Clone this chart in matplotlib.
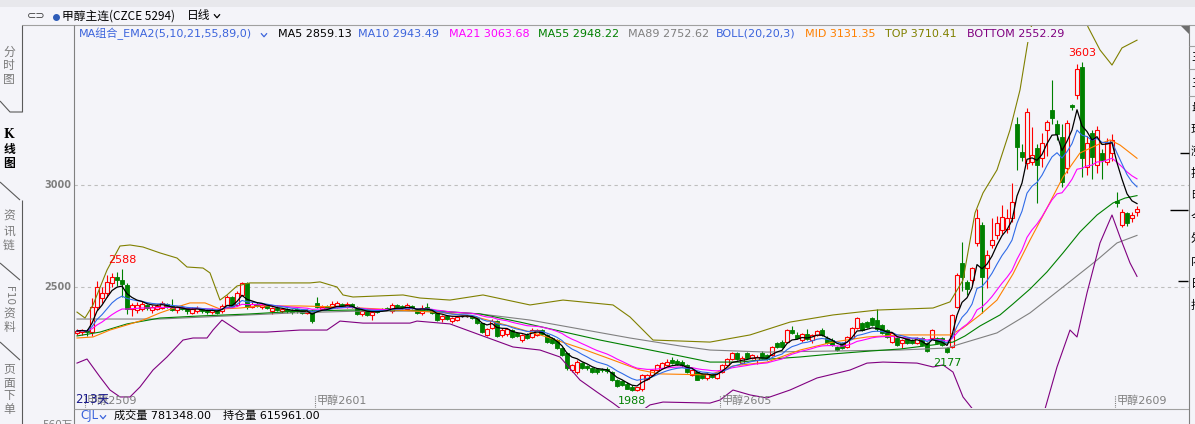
import numpy as np
import pandas as pd
import matplotlib
matplotlib.use("Agg")
import matplotlib.pyplot as plt
from matplotlib.patches import Rectangle, Polygon
from matplotlib.lines import Line2D

plt.rcParams['font.family'] = ['DejaVu Sans', 'Noto Sans CJK SC']

# ---------------- data ----------------
open_ = [2275, 2280, 2290, 2280, 2400, 2445, 2470, 2520, 2548, 2535,
         2512, 2392, 2385, 2392, 2410, 2386, 2390, 2395, 2416, 2405,
         2385, 2400, 2395, 2375, 2380, 2390, 2385, 2378, 2385, 2380,
         2400, 2450, 2410, 2460, 2520, 2400, 2416, 2400, 2410, 2380,
         2395, 2380, 2390, 2386, 2390, 2385, 2375, 2380, 2420, 2390,
         2405, 2400, 2400, 2415, 2400, 2415, 2400, 2368, 2385, 2365,
         2385, 2390, 2395, 2380, 2410, 2405, 2390, 2405, 2390, 2375,
         2400, 2385, 2375, 2345, 2360, 2335, 2340, 2360, 2360, 2358,
         2350, 2322, 2265, 2300, 2335, 2265, 2270, 2290, 2275, 2240,
         2265, 2255, 2265, 2290, 2265, 2250, 2240, 2200, 2175, 2094,
         2084, 2128, 2115, 2103, 2100, 2100, 2100, 2085, 2045, 2040,
         2025, 2012, 1996, 1998, 2048, 2070, 2094, 2103, 2118, 2142,
         2135, 2130, 2118, 2070, 2084, 2072, 2056, 2072, 2056, 2084,
         2118, 2147, 2176, 2128, 2176, 2152, 2142, 2176, 2166, 2168,
         2226, 2231, 2231, 2290, 2265, 2240, 2270, 2240, 2265, 2290,
         2250, 2240, 2206, 2225, 2206, 2250, 2300, 2324, 2329, 2348,
         2338, 2314, 2290, 2230, 2250, 2226, 2250, 2240, 2226, 2250,
         2226, 2250, 2250, 2250, 2201, 2206, 2402, 2618, 2525, 2535,
         2716, 2805, 2593, 2706, 2755, 2780, 2785, 2838, 3299, 3162,
         3108, 3113, 3181, 3132, 3270, 3368, 3300, 3235, 3083, 3390,
         3441, 3578, 3088, 3255, 3098, 3157, 3113, 3157, 2922, 2804,
         2863, 2838, 2868]
high = [2295, 2295, 2295, 2445, 2530, 2500, 2560, 2570, 2575, 2588,
        2518, 2420, 2425, 2430, 2415, 2410, 2415, 2430, 2420, 2440,
        2405, 2410, 2400, 2400, 2405, 2395, 2390, 2395, 2390, 2415,
        2460, 2455, 2480, 2525, 2525, 2430, 2425, 2420, 2415, 2400,
        2410, 2395, 2395, 2390, 2395, 2390, 2390, 2385, 2450, 2410,
        2410, 2430, 2430, 2420, 2425, 2420, 2405, 2385, 2390, 2380,
        2390, 2395, 2400, 2420, 2415, 2410, 2420, 2410, 2395, 2410,
        2420, 2390, 2380, 2365, 2365, 2355, 2360, 2365, 2362, 2362,
        2355, 2325, 2300, 2345, 2340, 2300, 2300, 2295, 2280, 2270,
        2275, 2300, 2295, 2295, 2270, 2255, 2245, 2205, 2180, 2125,
        2140, 2132, 2120, 2108, 2105, 2105, 2110, 2090, 2050, 2045,
        2035, 2020, 2012, 2072, 2072, 2098, 2122, 2132, 2145, 2158,
        2145, 2140, 2122, 2098, 2090, 2078, 2076, 2076, 2080, 2122,
        2152, 2182, 2180, 2160, 2182, 2170, 2168, 2185, 2172, 2212,
        2232, 2240, 2295, 2310, 2280, 2275, 2295, 2270, 2290, 2300,
        2258, 2250, 2212, 2232, 2260, 2305, 2355, 2330, 2335, 2355,
        2390, 2320, 2295, 2280, 2256, 2245, 2256, 2245, 2256, 2256,
        2232, 2295, 2256, 2256, 2206, 2368, 2570, 2720, 2535, 2600,
        2880, 2820, 2680, 2840, 2850, 2900, 2880, 3010, 3333, 3200,
        3377, 3284, 3200, 3255, 3320, 3515, 3320, 3300, 3320, 3395,
        3595, 3603, 3240, 3270, 3290, 3175, 3230, 3250, 2966, 2880,
        2870, 2870, 2897]
low = [2265, 2265, 2260, 2262, 2385, 2420, 2450, 2500, 2505, 2450,
       2370, 2360, 2375, 2380, 2385, 2375, 2385, 2390, 2395, 2380,
       2375, 2385, 2370, 2370, 2375, 2375, 2370, 2370, 2370, 2375,
       2395, 2400, 2405, 2455, 2390, 2395, 2400, 2390, 2390, 2370,
       2380, 2375, 2375, 2370, 2375, 2370, 2370, 2325, 2395, 2385,
       2390, 2395, 2395, 2400, 2395, 2395, 2365, 2360, 2360, 2340,
       2375, 2380, 2385, 2375, 2398, 2390, 2385, 2390, 2370, 2365,
       2385, 2370, 2335, 2330, 2340, 2325, 2335, 2355, 2355, 2345,
       2320, 2275, 2260, 2295, 2255, 2255, 2260, 2250, 2255, 2230,
       2245, 2250, 2260, 2265, 2225, 2220, 2195, 2160, 2095, 2085,
       2075, 2100, 2095, 2078, 2075, 2085, 2080, 2040, 2010, 2015,
       1998, 1988, 1992, 1992, 2042, 2065, 2090, 2098, 2112, 2125,
       2120, 2110, 2080, 2066, 2042, 2050, 2042, 2052, 2050, 2080,
       2112, 2142, 2140, 2122, 2148, 2146, 2125, 2146, 2140, 2160,
       2200, 2200, 2225, 2270, 2245, 2230, 2240, 2225, 2260, 2260,
       2220, 2210, 2185, 2195, 2200, 2245, 2295, 2285, 2300, 2308,
       2285, 2270, 2250, 2225, 2210, 2200, 2220, 2220, 2220, 2210,
       2180, 2245, 2220, 2210, 2177, 2200, 2395, 2480, 2460, 2510,
       2700, 2375, 2495, 2690, 2735, 2760, 2765, 2820, 3074, 3120,
       3080, 3100, 2912, 3090, 3140, 3300, 3220, 2990, 3060, 3370,
       3420, 3039, 3050, 3030, 3059, 3030, 3100, 3120, 2892, 2794,
       2800, 2820, 2848]
close = [2285, 2290, 2278, 2400, 2500, 2470, 2525, 2550, 2532, 2515,
         2392, 2412, 2410, 2416, 2396, 2401, 2406, 2420, 2401, 2386,
         2400, 2390, 2380, 2390, 2395, 2381, 2378, 2386, 2375, 2405,
         2450, 2406, 2470, 2520, 2400, 2415, 2408, 2411, 2395, 2395,
         2385, 2390, 2380, 2378, 2381, 2375, 2385, 2335, 2402, 2400,
         2396, 2415, 2420, 2405, 2415, 2401, 2370, 2380, 2365, 2375,
         2378, 2385, 2390, 2410, 2402, 2395, 2410, 2395, 2375, 2395,
         2390, 2375, 2340, 2360, 2345, 2350, 2355, 2360, 2360, 2350,
         2325, 2280, 2295, 2335, 2262, 2290, 2295, 2256, 2262, 2265,
         2252, 2290, 2290, 2272, 2232, 2226, 2202, 2167, 2103, 2118,
         2133, 2105, 2102, 2082, 2082, 2092, 2086, 2045, 2016, 2022,
         2002, 1994, 2008, 2068, 2068, 2094, 2118, 2128, 2130, 2128,
         2124, 2116, 2084, 2094, 2046, 2055, 2072, 2058, 2076, 2118,
         2147, 2177, 2145, 2152, 2152, 2165, 2156, 2152, 2147, 2206,
         2206, 2206, 2290, 2275, 2250, 2270, 2245, 2265, 2282, 2265,
         2226, 2216, 2192, 2200, 2255, 2300, 2348, 2290, 2305, 2314,
         2292, 2276, 2256, 2275, 2216, 2240, 2226, 2226, 2250, 2216,
         2184, 2290, 2226, 2216, 2182, 2363, 2559, 2550, 2492, 2593,
         2838, 2549, 2657, 2731, 2814, 2843, 2840, 2917, 3186, 3137,
         3358, 3147, 3098, 3206, 3309, 3328, 3250, 3015, 3304, 3380,
         3568, 3132, 3206, 3137, 3270, 3122, 3206, 3220, 2912, 2868,
         2814, 2853, 2882]

# slow indicator lines at sample bars
ma55_idx = [0, 4.6, 10, 16.6, 24.6, 34.6, 44.6, 54.6, 64.6, 72.6, 80.6, 88.6, 96.6, 104.6,
            112.6, 120.6, 126.6, 132.6, 138.6, 144.6, 151.2, 158.6, 164.6, 171.2, 175.2,
            177.6, 180.6, 184.6, 187.2, 190.6, 194, 197.2, 200.6, 204, 207.2, 209.6, 212]
ma55_val = [2260, 2279, 2319, 2348, 2358, 2368, 2382, 2387, 2387, 2382, 2368, 2328, 2284, 2240,
            2201, 2162, 2132, 2132, 2147, 2157, 2172, 2186, 2196, 2216, 2230,
            2260, 2309, 2363, 2417, 2490, 2574, 2667, 2770, 2853, 2912, 2936, 2948]
ma89_idx = [0, 16.6, 30, 43.2, 56.6, 68.6, 80.6, 90.6, 100.6, 110.6, 120.6, 126.6, 138,
            150.6, 164.6, 174, 177.2, 184, 190.6, 197.2, 204, 208, 212]
ma89_val = [2343, 2343, 2358, 2373, 2382, 2382, 2368, 2338, 2294, 2250, 2211, 2191, 2181,
            2186, 2191, 2201, 2225, 2275, 2373, 2500, 2632, 2716, 2753]
mid_idx = [0, 3.2, 6.6, 10, 13.2, 16.6, 20, 22.6, 25.6, 28.6, 32.6, 36.6, 44.6, 52.6, 60.6,
           74, 80.6, 87.2, 94, 100.6, 107.2, 112.6, 116.6, 126.6, 131.2, 138, 144.6, 151.2,
           158, 164.6, 174.6, 177.2, 180.6, 184, 187.2, 190.6, 194, 197.2, 200.6, 204, 206.6,
           208.6, 212]
mid_val = [2250, 2255, 2289, 2314, 2338, 2373, 2402, 2422, 2422, 2392, 2397, 2407, 2407, 2402,
           2392, 2373, 2348, 2304, 2255, 2201, 2142, 2093, 2074, 2069, 2113, 2132, 2191, 2230,
           2255, 2265, 2265, 2299, 2363, 2436, 2564, 2730, 2887, 3039, 3157, 3196, 3221,
           3196, 3131]
top_idx = [0, 1.6, 3.2, 6, 8.6, 10.6, 13.2, 16.6, 20, 22, 25.2, 26.6, 28.6, 30, 32, 34.6,
           46.6, 48.6, 52, 53.2, 55.2, 65.2, 68.6, 74.6, 81.2, 90.6, 97.2, 107.2, 110.6, 115.2,
           126.6, 134.6, 142.6, 151.2, 160, 171.2, 174.6, 177.2, 179.6, 181.2, 184, 186.6,
           188.6, 190, 190.6, 193.6, 196.6, 199.6, 202.2, 204.6, 207, 209, 212]
top_val = [2377, 2348, 2412, 2583, 2701, 2706, 2696, 2667, 2642, 2598, 2593, 2569, 2436,
           2461, 2505, 2520, 2520, 2525, 2500, 2461, 2451, 2461, 2446, 2436, 2461, 2412,
           2436, 2412, 2353, 2240, 2230, 2265, 2328, 2363, 2387, 2397, 2427, 2534, 2863,
           2961, 3074, 3270, 3466, 3676, 3760, 3950, 4050, 3950, 3775, 3662, 3588, 3672, 3710]
bot_idx = [0, 2, 4.6, 6.6, 8.6, 10.6, 12.6, 15.2, 18, 21.2, 23.2, 26, 27.2, 29, 32.6, 38,
           44.6, 50, 52.6, 57.2, 66.6, 68, 74.6, 80.6, 87.2, 92.6, 96.6, 100.6, 104, 107.2,
           109.6, 112.6, 114.6, 117.2, 126.6, 128.6, 131.2, 134.6, 138, 142.6, 148, 154.6,
           158, 161.2, 168, 171.2, 173.2, 175.2, 177.2, 179.6, 183, 187, 191, 193.6, 196,
           198.6, 200, 202, 204.6, 207, 208.6, 210.6, 212]
bot_val = [2127, 2147, 2059, 1995, 1961, 1961, 2010, 2093, 2157, 2240, 2250, 2250, 2289,
           2338, 2279, 2279, 2289, 2289, 2333, 2323, 2323, 2333, 2319, 2265, 2206, 2191,
           2157, 2044, 1985, 1931, 1887, 1887, 1922, 1936, 1931, 1946, 1995, 1971, 1956,
           1995, 2054, 2093, 2127, 2132, 2127, 2108, 2118, 2083, 1961, 1887, 1780, 1700,
           1780, 1902, 2108, 2289, 2255, 2471, 2716, 2853, 2745, 2618, 2552]

extreme_idx = [9, 201, 111, 174]
extreme_val = [2588, 3603, 1988, 2177]
extreme_kind = ['high', 'high', 'low', 'low']

contract_names = ['甲醇2509', '甲醇2601', '甲醇2605', '甲醇2609']
contract_start = [2, 48, 129, 208]

legend_names = ['MA5', 'MA10', 'MA21', 'MA55', 'MA89', 'MID', 'TOP', 'BOTTOM']
legend_values = ['2859.13', '2943.49', '3063.68', '2948.22', '2752.62', '3131.35', '3710.41', '2552.29']

# ---------------- styling ----------------
BG = '#F4F4F9'
RED = '#FF0000'
GREEN = '#008000'
BLUE = '#3C64DC'
MAG = '#FF00FF'
GRAY = '#808080'
ORANGE = '#FF8000'
OLIVE = '#808000'
PURPLE = '#800080'
LINE = '#A0A0A0'

W, H, DPI = 1195, 424, 100
fig = plt.figure(figsize=(W / DPI, H / DPI), dpi=DPI, facecolor=BG)


def fx(x):
    return x / W


def fy(y):
    return 1 - y / H


def fline(xs, ys, color=LINE, lw=0.8, ls='-', z=2):
    fig.add_artist(Line2D([fx(v) for v in xs], [fy(v) for v in ys], transform=fig.transFigure,
                          color=color, lw=lw, ls=ls, zorder=z, solid_capstyle='butt'))


def ftext(x, y, s, color='black', size=8, ha='left', va='center', **kw):
    fig.text(fx(x), fy(y), s, color=color, fontsize=size, ha=ha, va=va, **kw)


def chevron(xc, yc, color, w=6.0, h=3.5):
    fline([xc - w / 2, xc, xc + w / 2], [yc - h / 2, yc + h / 2, yc - h / 2], color=color, lw=0.9, z=5)


# main price axes
X0, X1, Y0, Y1 = 74, 1189, 25, 408
ax = fig.add_axes([fx(X0), fy(Y1), (X1 - X0) / W, (Y1 - Y0) / H])
ax.set_facecolor(BG)
ppx = 500 / 102.0
ax.set_xlim((X0 - 77) / 5.0, (X1 - 77) / 5.0)
ax.set_ylim(3000 - (Y1 - 185) * ppx, 3000 + (185 - Y0) * ppx)
ax.axis('off')

for lvl in (3000, 2500):
    ax.axhline(lvl, color='#BEBEBE', lw=0.8, ls=(0, (3, 3)), zorder=1)

# candles
n = len(close)
bw = 0.7
for i in range(n):
    o, h, l, c = open_[i], high[i], low[i], close[i]
    h = max(h, o, c)
    l = min(l, o, c)
    if c > o:
        ax.vlines(i, c, h, color=RED, lw=0.8, zorder=2)
        ax.vlines(i, l, o, color=RED, lw=0.8, zorder=2)
        ax.add_patch(Rectangle((i - bw / 2, o), bw, c - o, facecolor=BG, edgecolor=RED, lw=0.8, zorder=2))
    elif c < o:
        ax.vlines(i, l, h, color=GREEN, lw=0.8, zorder=2)
        ax.add_patch(Rectangle((i - bw / 2, c), bw, o - c, facecolor=GREEN, edgecolor=GREEN, lw=0.6, zorder=2))
    else:
        ax.vlines(i, l, h, color='black', lw=0.8, zorder=2)
        ax.hlines(c, i - bw / 2, i + bw / 2, color='black', lw=1.0, zorder=2)

# moving averages (EMA of the closes) and the read-off indicator lines
cs = pd.Series(close, dtype=float)
idx = np.arange(n)
ax.plot(ma89_idx, ma89_val, color=GRAY, lw=0.8, zorder=3)
ax.plot(ma55_idx, ma55_val, color=GREEN, lw=0.8, zorder=3)
ax.plot(mid_idx, mid_val, color=ORANGE, lw=0.8, zorder=3)
ax.plot(top_idx, top_val, color=OLIVE, lw=0.8, zorder=3)
ax.plot(bot_idx, bot_val, color=PURPLE, lw=0.8, zorder=3)
ax.plot(idx, cs.ewm(span=21, adjust=False).mean(), color=MAG, lw=0.8, zorder=3)
ax.plot(idx, cs.ewm(span=10, adjust=False).mean(), color='#2F6BE8', lw=0.8, zorder=3)
ax.plot(idx, cs.ewm(span=5, adjust=False).mean(), color='black', lw=0.9, zorder=3)

# extreme labels
for i, v, k in zip(extreme_idx, extreme_val, extreme_kind):
    if k == 'high':
        ax.annotate(str(v), xy=(i, v), xytext=(0, 4), textcoords='offset pixels',
                    ha='center', va='bottom', color=RED, fontsize=8, zorder=6)
    else:
        ax.annotate(str(v), xy=(i, v), xytext=(0, -5), textcoords='offset pixels',
                    ha='center', va='top', color=GREEN, fontsize=8, zorder=6)

# contract roll markers
for name, s in zip(contract_names, contract_start):
    ax.vlines(s - 0.5, 3000 - (408 - 185) * ppx, 3000 - (395 - 185) * ppx, color=GRAY,
              lw=0.8, ls=(0, (1, 1)), zorder=4)
    ax.annotate(name, xy=(s - 0.5, 3000 - (401 - 185) * ppx), xytext=(2, 0), textcoords='offset pixels',
                ha='left', va='center', color=GRAY, fontsize=8,
                family=['DejaVu Sans', 'Noto Sans CJK SC'], zorder=5)
ftext(75, 399, '213天', color='#1C1C8C', size=8.5, family=['DejaVu Sans', 'Noto Sans CJK SC'], zorder=6)

# ---------------- frame and chrome ----------------
fig.add_artist(Rectangle((0, fy(7)), 1, 7 / H, transform=fig.transFigure, facecolor='#E8E8EC',
                         edgecolor='none', zorder=1))
fline([22, W], [25, 25], color=LINE)
fline([X0, X0], [25, H], color=GRAY)
fline([X0, X1], [Y1 + 0.5, Y1 + 0.5], color=LINE)
fline([X1, X1], [25, H], color=GRAY)
fig.add_artist(Polygon([(fx(1181), fy(26)), (fx(1189), fy(26)), (fx(1189), fy(34))], closed=True,
                       transform=fig.transFigure, facecolor='#6E6E6E', edgecolor='none', zorder=5))

# header background strip (hides lines behind the legend text)
fig.add_artist(Rectangle((fx(76), fy(42)), (1067 - 76) / W, 15 / H, transform=fig.transFigure,
                         facecolor=BG, edgecolor='none', zorder=2.5))

# top title row
ftext(27, 16, '⊂⊃', color='#404040', size=8)
fig.add_artist(Line2D([fx(56)], [fy(17)], marker='o', markersize=4, color='#2E5CB8',
                      transform=fig.transFigure, zorder=5))
ftext(62, 16, '甲醇主连(CZCE 5294)', color='black', size=8.5, family=['Noto Sans CJK SC'])
ftext(187, 16, '日线', color='black', size=8.5, family=['Noto Sans CJK SC'])
chevron(217, 16, 'black')

# legend row
legend_colors = ['black', BLUE, MAG, GREEN, GRAY, ORANGE, OLIVE, PURPLE]
legend_x = [278, 358, 449, 538, 628, 805, 885, 967]
ftext(79, 34, 'MA组合_EMA2(5,10,21,55,89,0)', color=BLUE, size=8)
chevron(264, 35, BLUE)
ftext(716, 34, 'BOLL(20,20,3)', color=BLUE, size=8)
for nm, val, col, xx in zip(legend_names, legend_values, legend_colors, legend_x):
    ftext(xx, 34, f'{nm} {val}', color=col, size=8)

# y-axis labels
ftext(71, 185, '3000', color='#7F7F7F', size=7, ha='right', weight='bold')
ftext(71, 287, '2500', color='#7F7F7F', size=7, ha='right', weight='bold')

# bottom (volume panel header)
ftext(80, 416, 'CJL', color=BLUE, size=8.5)
chevron(103, 417, BLUE)
ftext(114, 416, '成交量 781348.00', color='black', size=8)
ftext(223, 416, '持仓量 615961.00', color='black', size=8)
ftext(42, 420, '560万', color='#7F7F7F', size=7.5, va='top', family=['DejaVu Sans', 'Noto Sans CJK SC'])

# left tabs
TABC = '#7A7A7A'
for ch, yy in zip('分时图', [52, 66, 80]):
    ftext(9, yy, ch, color=TABC, size=8.5, ha='center', family=['Noto Sans CJK SC'])
ftext(9, 135, 'K', color='black', size=8.5, ha='center', weight='bold', family=['DejaVu Serif'])
for ch, yy in zip('线图', [149, 163]):
    ftext(9, yy, ch, color='black', size=8.5, ha='center', weight='bold', family=['Noto Sans CJK SC'])
for ch, yy in zip('资讯链', [216, 231, 245]):
    ftext(9, yy, ch, color=TABC, size=8.5, ha='center', family=['Noto Sans CJK SC'])
ftext(9, 296, 'F10', color=TABC, size=7.5, ha='center', rotation=270)
for ch, yy in zip('资料', [314, 328]):
    ftext(9, yy, ch, color=TABC, size=8.5, ha='center', family=['Noto Sans CJK SC'])
for ch, yy in zip('页面下单', [369, 383, 396, 409]):
    ftext(9, yy, ch, color=TABC, size=8.5, ha='center', family=['Noto Sans CJK SC'])
TL = '#5A5A5A'
fline([22, 22], [25, 112], color=TL)
fline([0, 10, 22], [101, 112, 112], color=TL)
fline([0, 20], [182, 200], color=TL)
fline([22, 22], [200, H], color=TL)
fline([0, 20], [263, 280], color=TL)
fline([0, 20], [342, 360], color=TL)

# right info panel (cut off at the image edge)
for yy in (46, 69, 96):
    fline([X1, W], [yy, yy], color=LINE)
for ch, yy in zip('主主最现涨振昨今外内日持', [57, 83, 107, 129, 151, 173, 195, 217, 239, 261, 283, 305]):
    ftext(1191, yy, ch, color='black', size=8.5, family=['Noto Sans CJK SC'])
fline([1180, 1189], [153, 153], color='black', lw=1.0, z=5)
fline([1170, 1188], [210, 210], color='black', lw=1.0, z=5)
fline([1178, 1188], [281, 281], color='black', lw=1.0, z=5)

fig.savefig('out.png', dpi=DPI, facecolor=BG)
